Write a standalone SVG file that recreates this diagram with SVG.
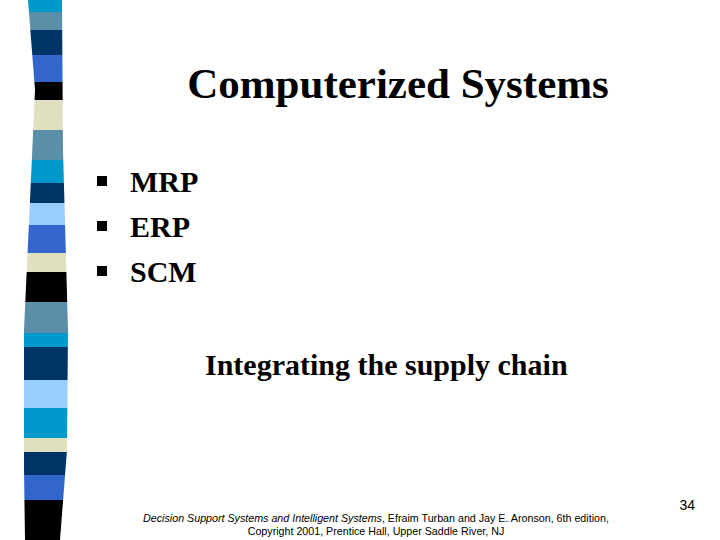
<svg xmlns="http://www.w3.org/2000/svg" width="720" height="540" viewBox="0 0 720 540">
<style>
.t{font-family:"Liberation Serif",serif;fill:#000;font-weight:bold}
.s{font-family:"Liberation Sans",sans-serif;fill:#000}
.c{fill:#0099cc}.sl{fill:#5b8fa8}.n{fill:#003366}.b{fill:#3366cc}.k{fill:#000}.e{fill:#e0e0c0}.l{fill:#99ccff}
</style>
<defs><clipPath id="cp"><path d="M28,0 L35,90 L30,200 L24,330 L24,470 L25,540 L60,540 L67,450 L68,330 L63,150 L62,0 Z"/></clipPath></defs>
<rect width="720" height="540" fill="#fff"/>
<g id="stripe" clip-path="url(#cp)">
<rect class="c" x="0" y="0" width="80" height="12"/>
<rect class="sl" x="0" y="12" width="80" height="18"/>
<rect class="n" x="0" y="30" width="80" height="25"/>
<rect class="b" x="0" y="55" width="80" height="27"/>
<rect class="k" x="0" y="82" width="80" height="18"/>
<rect class="e" x="0" y="100" width="80" height="30"/>
<rect class="sl" x="0" y="130" width="80" height="30"/>
<rect class="c" x="0" y="160" width="80" height="23"/>
<rect class="n" x="0" y="183" width="80" height="20"/>
<rect class="l" x="0" y="203" width="80" height="22"/>
<rect class="b" x="0" y="225" width="80" height="28"/>
<rect class="e" x="0" y="253" width="80" height="19"/>
<rect class="k" x="0" y="272" width="80" height="30"/>
<rect class="sl" x="0" y="302" width="80" height="31"/>
<rect class="c" x="0" y="333" width="80" height="14"/>
<rect class="n" x="0" y="347" width="80" height="33"/>
<rect class="l" x="0" y="380" width="80" height="28"/>
<rect class="c" x="0" y="408" width="80" height="30"/>
<rect class="e" x="0" y="438" width="80" height="14"/>
<rect class="n" x="0" y="452" width="80" height="23"/>
<rect class="b" x="0" y="475" width="80" height="25"/>
<rect class="k" x="0" y="500" width="80" height="40"/>
</g>
<g id="title"><text class="t" x="398" y="98" font-size="43" text-anchor="middle">Computerized Systems</text></g>
<g id="bullets">
<rect x="97" y="176" width="10" height="10" fill="#000"/>
<rect x="97" y="221" width="10" height="10" fill="#000"/>
<rect x="97" y="266" width="10" height="10" fill="#000"/>
<text class="t" x="130" y="192" font-size="30">MRP</text>
<text class="t" x="130" y="237" font-size="30">ERP</text>
<text class="t" x="130" y="282" font-size="30">SCM</text>
</g>
<g id="sub"><text class="t" x="205" y="375" font-size="30">Integrating the supply chain</text></g>
<g id="footer">
<text class="s" x="695" y="510" font-size="14" text-anchor="end">34</text>
<text class="s" x="376" y="522" font-size="10.7" text-anchor="middle"><tspan font-style="italic">Decision Support Systems and Intelligent Systems</tspan>, Efraim Turban and Jay E. Aronson, 6th edition,</text>
<text class="s" x="376" y="535" font-size="10.7" text-anchor="middle">Copyright 2001, Prentice Hall, Upper Saddle River, NJ</text>
</g>
</svg>
